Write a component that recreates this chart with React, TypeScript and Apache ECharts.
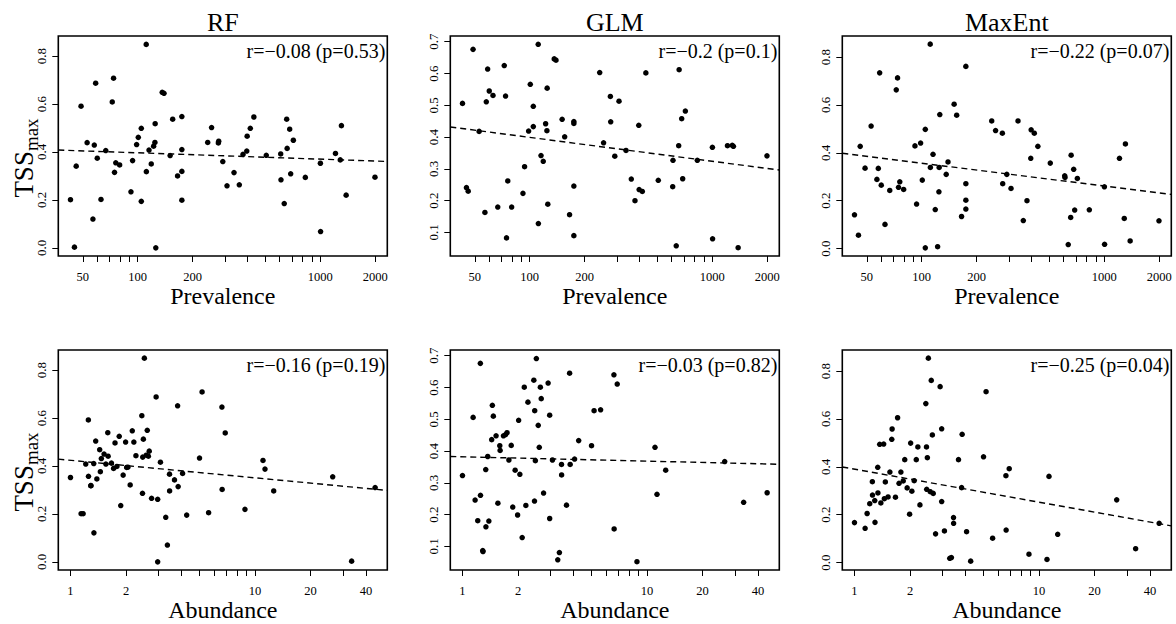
import React, { useEffect, useRef } from "react";
import * as echarts from "echarts";

// ---------- data ----------
const modelNames = ["RF", "GLM", "MaxEnt"];

const prevalence = [
  42.8, 45.0, 46.0, 48.9, 52.8, 56.8, 57.8, 58.8, 60.0, 62.9,
  66.8, 72.5, 73.7, 74.6, 75.8, 79.6, 91.8, 93.7, 98.6, 100.7,
  104.6, 104.6, 111.3, 111.5, 115.3, 118.6, 122.2, 124.2, 124.6, 125.6,
  136.2, 139.3, 150.5, 155.4, 165.3, 174.5, 174.5, 174.5, 174.5, 241.8,
  253.9, 276.6, 277.8, 292.5, 308.5, 337, 360.3, 377.4, 395.8, 397.8,
  413.9, 432.9, 506.4, 607.4, 609.6, 635.2, 655.1, 658.8, 680.4, 689,
  712.6, 828.8, 1002.4, 1004.8, 1212.5, 1288, 1307, 1387.3, 1996,
];

const tssRfPrev = [
  0.201, 0.003, 0.341, 0.591, 0.439, 0.120, 0.429, 0.687, 0.374, 0.202,
  0.406, 0.609, 0.708, 0.315, 0.355, 0.346, 0.234, 0.364, 0.431, 0.461,
  0.499, 0.194, 0.849, 0.318, 0.408, 0.350, 0.424, 0.440, 0.518, 0.000,
  0.649, 0.645, 0.385, 0.537, 0.300, 0.548, 0.410, 0.319, 0.199, 0.440,
  0.502, 0.438, 0.445, 0.360, 0.259, 0.314, 0.263, 0.390, 0.404, 0.466,
  0.499, 0.546, 0.386, 0.392, 0.284, 0.185, 0.537, 0.415, 0.495, 0.309,
  0.449, 0.294, 0.353, 0.068, 0.394, 0.367, 0.510, 0.220, 0.295,
];

const tssGlmPrev = [
  0.506, 0.241, 0.230, 0.676, 0.418, 0.163, 0.511, 0.614, 0.545, 0.531,
  0.180, 0.625, 0.529, 0.083, 0.262, 0.180, 0.223, 0.307, 0.419, 0.566,
  0.433, 0.497, 0.692, 0.128, 0.342, 0.324, 0.442, 0.420, 0.554, 0.189,
  0.646, 0.642, 0.456, 0.401, 0.156, 0.449, 0.443, 0.246, 0.090, 0.603,
  0.382, 0.528, 0.448, 0.340, 0.513, 0.358, 0.268, 0.200, 0.437, 0.235,
  0.229, 0.602, 0.264, 0.244, 0.327, 0.058, 0.373, 0.612, 0.458, 0.269,
  0.482, 0.327, 0.368, 0.080, 0.373, 0.374, 0.371, 0.052, 0.341,
];

const tssMaxEntPrev = [
  0.141, 0.056, 0.427, 0.336, 0.512, 0.289, 0.335, 0.734, 0.265, 0.101,
  0.243, 0.663, 0.713, 0.256, 0.279, 0.247, 0.429, 0.186, 0.441, 0.286,
  0.498, 0.003, 0.854, 0.339, 0.394, 0.163, 0.008, 0.237, 0.339, 0.560,
  0.310, 0.362, 0.603, 0.557, 0.134, 0.761, 0.271, 0.202, 0.165, 0.533,
  0.493, 0.482, 0.271, 0.310, 0.251, 0.533, 0.117, 0.200, 0.377, 0.496,
  0.482, 0.427, 0.357, 0.304, 0.297, 0.017, 0.130, 0.390, 0.331, 0.161,
  0.293, 0.162, 0.258, 0.018, 0.377, 0.126, 0.437, 0.032, 0.116,
];

const abundance = [
  1.0, 1.142, 1.171, 1.21, 1.25, 1.252, 1.288, 1.292, 1.337, 1.34,
  1.37, 1.39, 1.44, 1.452, 1.47, 1.521, 1.556, 1.593, 1.6, 1.668,
  1.713, 1.744, 1.785, 1.838, 1.873, 1.93, 1.99, 2.016, 2.047, 2.107,
  2.163, 2.206, 2.264, 2.437, 2.457, 2.464, 2.484, 2.515, 2.575, 2.608,
  2.644, 2.673, 2.752, 2.913, 2.97, 2.97, 3.074, 3.285, 3.353, 3.443,
  3.447, 3.664, 3.809, 3.835, 4.053, 4.266, 5.008, 5.17, 5.609, 6.623,
  6.641, 6.902, 8.83, 11.06, 11.34, 12.64, 26.4, 33.44, 44.85,
];

const tssRfAbund = [
  0.352, 0.201, 0.201, 0.408, 0.592, 0.357, 0.318, 0.318, 0.410, 0.121,
  0.504, 0.346, 0.468, 0.376, 0.431, 0.450, 0.408, 0.539, 0.441, 0.412,
  0.390, 0.496, 0.398, 0.524, 0.235, 0.362, 0.500, 0.394, 0.395, 0.321,
  0.547, 0.500, 0.443, 0.610, 0.286, 0.437, 0.512, 0.850, 0.445, 0.549,
  0.441, 0.462, 0.265, 0.688, 0.261, 0.000, 0.416, 0.186, 0.070, 0.366,
  0.296, 0.342, 0.651, 0.314, 0.369, 0.195, 0.433, 0.709, 0.205, 0.646,
  0.302, 0.538, 0.219, 0.423, 0.387, 0.296, 0.355, 0.003, 0.310,
];

const tssGlmAbund = [
  0.323, 0.506, 0.246, 0.181, 0.676, 0.261, 0.087, 0.084, 0.342, 0.162,
  0.383, 0.180, 0.436, 0.544, 0.510, 0.448, 0.236, 0.417, 0.402, 0.448,
  0.452, 0.458, 0.372, 0.418, 0.224, 0.340, 0.199, 0.497, 0.327, 0.128,
  0.601, 0.229, 0.554, 0.623, 0.243, 0.527, 0.370, 0.691, 0.481, 0.412,
  0.601, 0.565, 0.268, 0.614, 0.513, 0.188, 0.372, 0.058, 0.081, 0.358,
  0.325, 0.230, 0.645, 0.358, 0.375, 0.433, 0.417, 0.527, 0.530, 0.640,
  0.155, 0.611, 0.052, 0.412, 0.264, 0.340, 0.367, 0.239, 0.269,
];

const tssMaxEntAbund = [
  0.167, 0.143, 0.205, 0.246, 0.338, 0.282, 0.259, 0.168, 0.398, 0.291,
  0.494, 0.249, 0.495, 0.267, 0.337, 0.274, 0.378, 0.515, 0.558, 0.273,
  0.605, 0.331, 0.378, 0.341, 0.430, 0.312, 0.202, 0.499, 0.298, 0.342,
  0.430, 0.483, 0.241, 0.664, 0.483, 0.306, 0.438, 0.854, 0.296, 0.761,
  0.533, 0.289, 0.120, 0.735, 0.559, 0.255, 0.132, 0.018, 0.021, 0.188,
  0.164, 0.430, 0.313, 0.536, 0.129, 0.006, 0.442, 0.714, 0.102, 0.363,
  0.136, 0.392, 0.035, 0.013, 0.360, 0.118, 0.262, 0.058, 0.164,
];

// fitted lines: [intercept, slope] of TSS against log10(x)
const fitPrev = [
  [0.4495, -0.02645],
  [0.5495, -0.07517],
  [0.5472, -0.0953],
];
const fitAbund = [
  [0.4238, -0.0732],
  [0.3821, -0.01366],
  [0.3903, -0.1379],
];

const statPrev = ["r=\u22120.08 (p=0.53)", "r=\u22120.2 (p=0.1)", "r=\u22120.22 (p=0.07)"];
const statAbund = ["r=\u22120.16 (p=0.19)", "r=\u22120.03 (p=0.82)", "r=\u22120.25 (p=0.04)"];

// axes
const prevRange = [36.7, 2332];
const abundRange = [0.859, 52.2];
const tssRanges = [
  [-0.034, 0.884],
  [0.026, 0.718],
  [-0.031, 0.888],
];
const prevTicks = [50, 60, 70, 80, 90, 100, 200, 300, 400, 500, 600, 700, 800, 900, 1000, 2000];
const prevTickLabels = [50, 100, 200, 1000, 2000];
const abundTicks = [1, 2, 3, 4, 5, 6, 7, 8, 9, 10, 20, 30, 40];
const abundTickLabels = [1, 2, 10, 20, 40];
const tssTicks = [
  [0, 0.2, 0.4, 0.6, 0.8],
  [0.1, 0.2, 0.3, 0.4, 0.5, 0.6, 0.7],
  [0, 0.2, 0.4, 0.6, 0.8],
];
const xTitles = ["Prevalence", "Abundance"];

// ---------- layout ----------
const SERIF = '"Liberation Serif", "Times New Roman", Times, serif';
const BOX_LEFT0 = 58.3;
const COL_STEP = 392;
const BOX_W = 329;
const BOX_TOP = [36, 350];
const BOX_H = 220;

function measure(text: string, font: string): number {
  const c = document.createElement("canvas");
  const ctx = c.getContext("2d");
  if (!ctx) return text.length * 10;
  ctx.font = font;
  return ctx.measureText(text).width;
}

export default function App() {
  const ref = useRef<HTMLDivElement>(null);

  useEffect(() => {
    if (!ref.current) return;
    const chart = echarts.init(ref.current, undefined, { renderer: "svg" });

    const grids: any[] = [];
    const xAxes: any[] = [];
    const yAxes: any[] = [];
    const series: any[] = [];
    const graphics: any[] = [];

    const rows = [
      { x: prevalence, ys: [tssRfPrev, tssGlmPrev, tssMaxEntPrev], fits: fitPrev, stats: statPrev, range: prevRange, ticks: prevTicks, labels: prevTickLabels },
      { x: abundance, ys: [tssRfAbund, tssGlmAbund, tssMaxEntAbund], fits: fitAbund, stats: statAbund, range: abundRange, ticks: abundTicks, labels: abundTickLabels },
    ];

    rows.forEach((row, r) => {
      for (let c = 0; c < 3; c++) {
        const idx = r * 3 + c;
        const left = BOX_LEFT0 + c * COL_STEP;
        const top = BOX_TOP[r];
        grids.push({
          left, top, width: BOX_W, height: BOX_H,
          show: true, borderColor: "#000", borderWidth: 1.6,
          backgroundColor: "transparent", containLabel: false, outerBoundsMode: "none",
        });
        xAxes.push({
          gridIndex: idx, type: "log", logBase: 10,
          min: row.range[0], max: row.range[1],
          axisLine: { show: false, onZero: false },
          splitLine: { show: false },
          minorTick: { show: false },
          axisTick: { show: true, length: 6, lineStyle: { color: "#000", width: 1 }, customValues: row.ticks },
          axisLabel: {
            fontFamily: SERIF, fontSize: 12.5, color: "#000", margin: 14,
            customValues: row.labels, formatter: (v: number) => String(Math.round(v)),
          },
        });
        yAxes.push({
          gridIndex: idx, type: "value",
          min: tssRanges[c][0], max: tssRanges[c][1],
          axisLine: { show: false, onZero: false },
          splitLine: { show: false },
          axisTick: { show: true, length: 6, lineStyle: { color: "#000", width: 1 }, customValues: tssTicks[c] },
          axisLabel: {
            fontFamily: SERIF, fontSize: 13, color: "#000", rotate: 90, margin: 10,
            customValues: tssTicks[c], formatter: (v: number) => v.toFixed(1),
          },
        });
        const ys = row.ys[c];
        series.push({
          type: "scatter", xAxisIndex: idx, yAxisIndex: idx, silent: true,
          symbol: "circle", symbolSize: 5.5, itemStyle: { color: "#000", opacity: 1 },
          data: row.x.map((xv, k) => [xv, ys[k]]),
        });
        const [a, b] = row.fits[c];
        series.push({
          type: "line", xAxisIndex: idx, yAxisIndex: idx, silent: true,
          symbol: "none", showSymbol: false, clip: true,
          lineStyle: { color: "#000", width: 1.4, type: [6, 4] },
          data: row.range.map((xv) => [xv, a + b * Math.log10(xv)]),
        });
        // stat text
        graphics.push({
          type: "text", x: left + BOX_W - 2, y: top + 15, silent: true,
          style: { text: row.stats[c], font: `20px ${SERIF}`, fill: "#000", textAlign: "right", textVerticalAlign: "middle", align: "right", verticalAlign: "middle" },
        });
        // x-axis title
        graphics.push({
          type: "text", x: left + BOX_W / 2, y: top + BOX_H + 40.4, silent: true,
          style: { text: xTitles[r], font: `24px ${SERIF}`, fill: "#000", textAlign: "center", textVerticalAlign: "middle", align: "center", verticalAlign: "middle" },
        });
        if (r === 0) {
          graphics.push({
            type: "text", x: left + BOX_W / 2, y: 22.9, silent: true,
            style: { text: modelNames[c], font: `26px ${SERIF}`, fill: "#000", textAlign: "center", textVerticalAlign: "middle", align: "center", verticalAlign: "middle" },
          });
        }
        if (c === 0) {
          const bigFont = `27px ${SERIF}`;
          const smallFont = `19px ${SERIF}`;
          const wT = measure("TSS", bigFont);
          const wM = measure("max", smallFont);
          const mid = top + BOX_H / 2 + 12;
          const start = mid + (wT + wM) / 2;
          graphics.push({
            type: "text", x: 23.5, y: start, rotation: Math.PI / 2, silent: true,
            style: { text: "TSS", font: bigFont, fill: "#000", textAlign: "left", textVerticalAlign: "middle", align: "left", verticalAlign: "middle" },
          });
          graphics.push({
            type: "text", x: 31, y: start - wT, rotation: Math.PI / 2, silent: true,
            style: { text: "max", font: smallFont, fill: "#000", textAlign: "left", textVerticalAlign: "middle", align: "left", verticalAlign: "middle" },
          });
        }
      }
    });

    chart.setOption({
      animation: false,
      backgroundColor: "#fff",
      grid: grids,
      xAxis: xAxes,
      yAxis: yAxes,
      series,
      graphic: { elements: graphics },
    });

    return () => chart.dispose();
  }, []);

  return (
    <div
      ref={ref}
      style={{ position: "absolute", left: 0, top: 0, width: 1176, height: 624, background: "#fff" }}
    />
  );
}
